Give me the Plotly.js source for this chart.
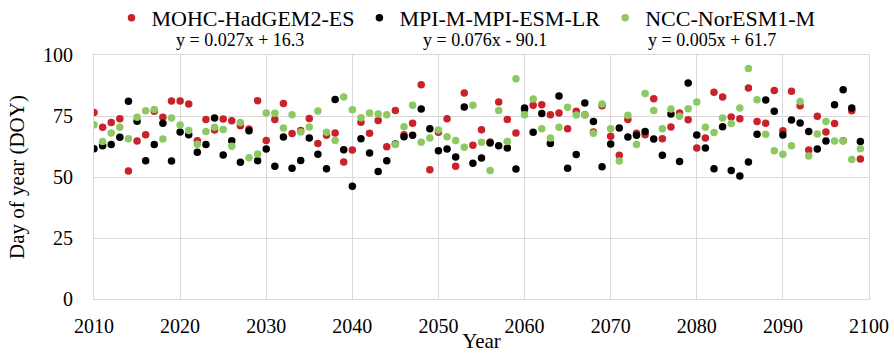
<!DOCTYPE html>
<html>
<head>
<meta charset="utf-8">
<script src="https://cdn.plot.ly/plotly-3.0.1.min.js"></script>
<style>
  html, body { margin: 0; padding: 0; background: #fff; }
  #chart { width: 894px; height: 353px; }
</style>
</head>
<body>
<div id="chart"></div>
<script>
// Simulated day of year (DOY), 2010-2099, for three climate models
const years = [
  2010, 2011, 2012, 2013, 2014, 2015, 2016, 2017, 2018, 2019,
  2020, 2021, 2022, 2023, 2024, 2025, 2026, 2027, 2028, 2029,
  2030, 2031, 2032, 2033, 2034, 2035, 2036, 2037, 2038, 2039,
  2040, 2041, 2042, 2043, 2044, 2045, 2046, 2047, 2048, 2049,
  2050, 2051, 2052, 2053, 2054, 2055, 2056, 2057, 2058, 2059,
  2060, 2061, 2062, 2063, 2064, 2065, 2066, 2067, 2068, 2069,
  2070, 2071, 2072, 2073, 2074, 2075, 2076, 2077, 2078, 2079,
  2080, 2081, 2082, 2083, 2084, 2085, 2086, 2087, 2088, 2089,
  2090, 2091, 2092, 2093, 2094, 2095, 2096, 2097, 2098, 2099
];

const mohcHadGEM2 = [
  76.4, 70.4, 72.3, 73.9, 52.5, 64.8, 67.3, 76.9, 74.5, 81.1,
  81.1, 79.9, 64.9, 73.6, 69.3, 73.8, 73.1, 71.0, 69.7, 81.3,
  65.0, 73.6, 80.1, 67.8, 69.1, 74.0, 63.7, 67.1, 68.0, 56.1,
  61.1, 72.4, 67.9, 73.2, 62.4, 77.3, 67.3, 72.0, 87.8, 53.0,
  68.3, 73.9, 54.4, 84.4, 63.0, 69.4, 64.3, 80.7, 73.6, 68.0,
  77.6, 79.4, 79.6, 75.5, 76.2, 69.8, 76.9, 75.5, 68.4, 79.2,
  66.7, 58.9, 73.6, 67.9, 67.3, 82.1, 65.7, 70.5, 76.2, 73.5,
  61.9, 66.0, 84.7, 82.8, 74.6, 73.9, 86.5, 72.7, 72.0, 85.5,
  69.0, 85.1, 79.2, 61.1, 74.9, 68.4, 71.9, 64.9, 77.2, 57.4
];

const mpiEsmLR = [
  61.6, 62.8, 63.3, 66.3, 81.0, 72.8, 56.7, 63.3, 72.0, 56.6,
  68.4, 67.3, 60.1, 63.3, 74.2, 59.0, 64.9, 56.0, 69.0, 56.7,
  61.5, 54.4, 66.4, 53.6, 56.8, 66.0, 59.3, 53.4, 81.8, 61.2,
  46.2, 65.7, 59.8, 52.3, 56.7, 63.5, 66.5, 67.1, 77.9, 69.8,
  60.8, 61.5, 58.2, 78.7, 55.6, 57.8, 63.9, 62.8, 61.9, 53.3,
  78.3, 68.3, 76.0, 63.7, 83.2, 53.6, 59.2, 80.3, 72.7, 54.2,
  63.5, 70.1, 66.4, 67.1, 68.6, 65.6, 58.9, 75.8, 56.4, 88.5,
  67.2, 61.9, 53.4, 70.6, 52.7, 50.4, 56.1, 67.5, 81.6, 76.9,
  67.2, 73.4, 72.1, 68.6, 61.5, 64.8, 79.6, 85.8, 78.3, 64.6
];

const nccNorESM1 = [
  71.4, 64.6, 68.0, 70.4, 65.7, 74.5, 77.2, 77.7, 65.6, 74.2,
  71.3, 69.1, 63.4, 68.6, 70.4, 69.5, 62.6, 72.3, 57.9, 59.4,
  76.2, 76.1, 70.1, 75.5, 68.4, 70.5, 77.0, 68.3, 65.0, 82.8,
  77.6, 74.3, 76.2, 75.8, 75.5, 63.3, 70.6, 79.4, 64.2, 66.0,
  69.3, 66.5, 65.0, 62.2, 79.4, 64.2, 52.7, 77.3, 64.6, 90.3,
  75.5, 82.0, 69.8, 66.0, 70.4, 78.6, 75.4, 75.4, 67.9, 79.9,
  69.8, 56.6, 75.3, 63.3, 84.2, 77.3, 69.8, 77.9, 74.9, 78.0,
  80.7, 70.4, 68.2, 74.2, 71.9, 78.3, 94.5, 81.7, 67.5, 60.8,
  59.3, 62.8, 80.9, 58.6, 67.6, 72.7, 64.8, 64.8, 57.2, 61.6
];

const seriesNames = ["MOHC-HadGEM2-ES", "MPI-M-MPI-ESM-LR", "NCC-NorESM1-M"];
const trendLabels = ["y = 0.027x + 16.3", "y = 0.076x - 90.1", "y = 0.005x + 61.7"];
const xTicks = [2010, 2020, 2030, 2040, 2050, 2060, 2070, 2080, 2090, 2100];
const yTicks = [0, 25, 50, 75, 100];

const colors = ["#c9222a", "#000000", "#8cc963"];
const serif = "Liberation Serif, Times New Roman, serif";
const gridGrey = "#d9d9d9";

const traces = [mohcHadGEM2, mpiEsmLR, nccNorESM1].map((vals, i) => ({
  type: "scatter",
  mode: "markers",
  name: seriesNames[i],
  x: years,
  y: vals,
  marker: { color: colors[i], size: 7.5, line: { width: 0 } }
}));

// Trend-line equations sit under the legend
const trendX = [0.188, 0.505, 0.797];
const annotations = trendLabels.map((t, i) => ({
  text: t,
  xref: "paper", yref: "paper",
  x: trendX[i], y: 1.0615,
  xanchor: "center", yanchor: "middle",
  showarrow: false,
  font: { family: serif, size: 18, color: "#000" }
}));

const layout = {
  width: 894,
  height: 353,
  margin: { l: 94, r: 25, t: 55, b: 54, autoexpand: false },
  paper_bgcolor: "#fff",
  plot_bgcolor: "#fff",
  font: { family: serif, color: "#000" },
  showlegend: true,
  legend: {
    orientation: "h",
    x: 0.48, xanchor: "center",
    yref: "container",
    y: 1 - 18 / 353, yanchor: "middle",
    font: { family: serif, size: 22, color: "#000" },
    itemwidth: 30,
    bgcolor: "rgba(0,0,0,0)"
  },
  xaxis: {
    range: [2010, 2100],
    tickvals: xTicks,
    ticks: "",
    showgrid: true,
    gridcolor: gridGrey,
    gridwidth: 1,
    zeroline: false,
    showline: true,
    mirror: true,
    linecolor: gridGrey,
    linewidth: 1,
    tickfont: { family: serif, size: 20, color: "#000" },
    ticklabelstandoff: 9,
    title: { text: "Year", font: { family: serif, size: 21, color: "#000" }, standoff: 0 }
  },
  yaxis: {
    range: [0, 100],
    tickvals: yTicks,
    ticks: "",
    showgrid: true,
    gridcolor: gridGrey,
    gridwidth: 1,
    zeroline: false,
    showline: true,
    mirror: true,
    linecolor: gridGrey,
    linewidth: 1,
    tickfont: { family: serif, size: 20, color: "#000" },
    ticklabelstandoff: 16,
    title: { text: "Day of year (DOY)", font: { family: serif, size: 21, color: "#000" }, standoff: 12 }
  },
  annotations: annotations
};

Plotly.newPlot("chart", traces, layout, { displayModeBar: false, staticPlot: true });
</script>
</body>
</html>
